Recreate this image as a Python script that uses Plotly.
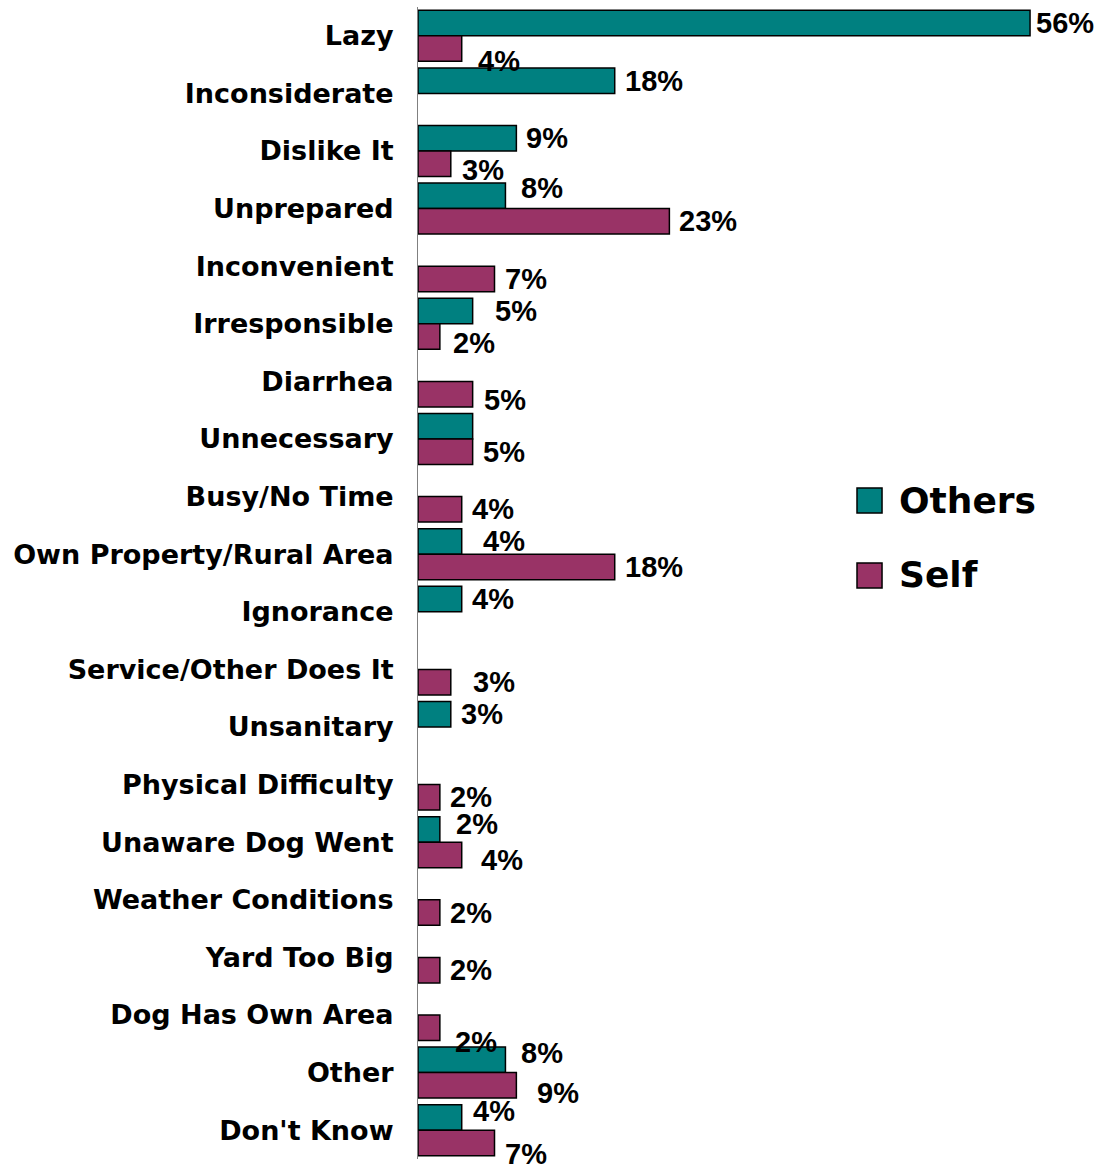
import plotly.graph_objects as go

# Reasons given for not picking up after a dog (% of respondents)
categories = [
    "Lazy", "Inconsiderate", "Dislike It", "Unprepared", "Inconvenient",
    "Irresponsible", "Diarrhea", "Unnecessary", "Busy/No Time",
    "Own Property/Rural Area", "Ignorance", "Service/Other Does It",
    "Unsanitary", "Physical Difficulty", "Unaware Dog Went",
    "Weather Conditions", "Yard Too Big", "Dog Has Own Area", "Other",
    "Don't Know",
]
others = [56, 18, 9, 8, None, 5, None, 5, None, 4, 4, None, 3, None, 2,
          None, None, None, 8, 4]
self_ = [4, None, 3, 23, 7, 2, 5, 5, 4, 18, None, 3, None, 2, 4, 2, 2, 2,
         9, 7]

series_names = ["Others", "Self"]
series_colors = ["#008080", "#993366"]

# Value labels that are left off, and hand nudges (dx, dy in px, +dy = down)
hidden_labels = {("Others", "Unnecessary")}
label_nudge = {
    ("Others", "Lazy"): (-4, 0),
    ("Others", "Unprepared"): (6, -8),
    ("Others", "Irresponsible"): (12, 0),
    ("Others", "Own Property/Rural Area"): (11, 0),
    ("Others", "Unaware Dog Went"): (6, -5),
    ("Others", "Other"): (6, -7),
    ("Others", "Don't Know"): (1, -6),
    ("Self", "Lazy"): (6, 12),
    ("Self", "Dislike It"): (1, 6),
    ("Self", "Irresponsible"): (3, 6),
    ("Self", "Diarrhea"): (1, 6),
    ("Self", "Service/Other Does It"): (12, 0),
    ("Self", "Unaware Dog Went"): (9, 5),
    ("Self", "Dog Has Own Area"): (5, 14),
    ("Self", "Other"): (11, 8),
    ("Self", "Don't Know"): (0, 11),
}

LABEL_FONT = dict(family="Liberation Sans, Arial, sans-serif", size=29,
                  color="black")
CAT_FONT = dict(family="DejaVu Sans, sans-serif", size=27, color="black")
BAR_HALF = 12.75  # half of one bar's thickness in px

fig = go.Figure()
for name, vals, color in zip(series_names, [others, self_], series_colors):
    fig.add_trace(go.Bar(
        y=categories, x=vals, name=name, orientation="h",
        marker=dict(color=color, line=dict(color="black", width=1.5)),
        showlegend=False, hoverinfo="x+y+name",
    ))

# Percentage labels just past the end of each bar
for si, (name, vals) in enumerate(zip(series_names, [others, self_])):
    base = BAR_HALF if si == 0 else -BAR_HALF
    for cat, v in zip(categories, vals):
        if v is None or (name, cat) in hidden_labels:
            continue
        dx, dy = label_nudge.get((name, cat), (0, 0))
        fig.add_annotation(
            x=v, y=cat, text=f"<b>{v}%</b>", showarrow=False,
            xanchor="left", yanchor="middle",
            xshift=8 + dx, yshift=base - dy, font=LABEL_FONT,
        )

# Legend drawn as large outlined swatches with bold names
legend_rows = [(0.5825, 0.5608, 0.572), (0.5174, 0.4957, 0.507)]
for (y0, y1, ty), name, color in zip(legend_rows, series_names, series_colors):
    fig.add_shape(type="rect", xref="paper", yref="paper",
                  x0=0.6437, x1=0.6804, y0=y1, y1=y0,
                  fillcolor=color, line=dict(color="black", width=1.5))
    fig.add_annotation(xref="paper", yref="paper", x=0.7023, y=ty,
                       text=f"<b>{name}</b>", showarrow=False,
                       xanchor="left", yanchor="middle",
                       font=dict(family="DejaVu Sans, sans-serif", size=36,
                                 color="black"))

fig.update_layout(
    barmode="group", bargap=0.115, bargroupgap=0,
    width=1108, height=1166,
    margin=dict(l=418, r=8, t=7, b=7),
    plot_bgcolor="white", paper_bgcolor="white",
    showlegend=False,
)
fig.update_xaxes(range=[0, 62.4], autorange=False, visible=False,
                 showgrid=False, zeroline=False)
fig.update_yaxes(
    categoryorder="array", categoryarray=categories,
    range=[len(categories) - 0.5, -0.5], autorange=False,
    tickmode="array", tickvals=categories,
    ticktext=[f"<b>{c}</b>" for c in categories],
    tickfont=CAT_FONT, ticks="", ticklabelstandoff=18,
    showline=True, linecolor="#808080", linewidth=1,
    showgrid=False, zeroline=False,
)

fig.write_html("out.html")
